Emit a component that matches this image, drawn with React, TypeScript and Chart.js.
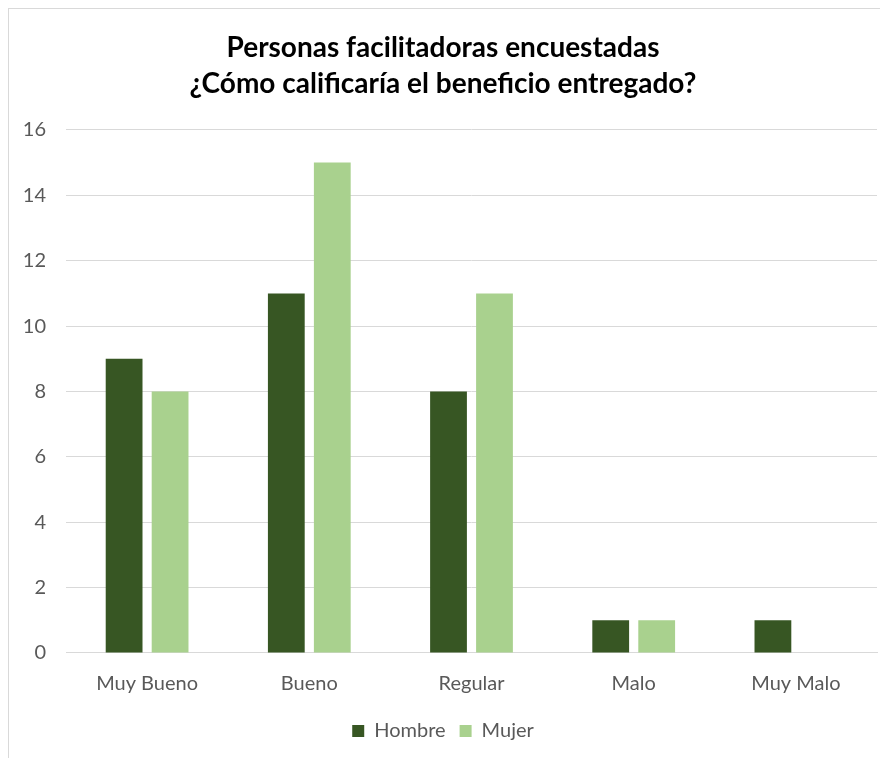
import React, { useEffect, useRef } from "react";
import { Chart, registerables } from "chart.js";

Chart.register(...registerables);

const categories = ["Muy Bueno", "Bueno", "Regular", "Malo", "Muy Malo"];
const hombreValues = [9, 11, 8, 1, 1];
const mujerValues = [8, 15, 11, 1, 0];
const titleLines = ["Personas facilitadoras encuestadas", "¿Cómo calificaría el beneficio entregado?"];

const FONT = "Lato, 'Open Sans', sans-serif";

export default function App() {
  const ref = useRef<HTMLCanvasElement | null>(null);
  useEffect(() => {
    if (!ref.current) return;
    const chart = new Chart(ref.current, {
      type: "bar",
      data: {
        labels: categories,
        datasets: [
          { label: "Hombre", data: hombreValues, backgroundColor: "#375623", categoryPercentage: 0.567, barPercentage: 0.8 },
          { label: "Mujer", data: mujerValues, backgroundColor: "#A9D18E", categoryPercentage: 0.567, barPercentage: 0.8 },
        ],
      },
      options: {
        animation: false,
        responsive: false,
        maintainAspectRatio: false,
        layout: { padding: { left: 0, right: 11, top: 0, bottom: 7 } },
        plugins: {
          title: {
            display: true,
            text: titleLines,
            color: "#000000",
            font: { family: FONT, size: 28, weight: "bold", lineHeight: 1.32 },
            padding: { top: 20, bottom: 27 },
          },
          legend: {
            position: "bottom",
            labels: {
              boxWidth: 12,
              boxHeight: 12,
              color: "#595959",
              font: { family: FONT, size: 20 },
              padding: 14,
            },
          },
          tooltip: { enabled: false },
        },
        scales: {
          x: {
            grid: { display: false, drawTicks: false },
            border: { display: true, color: "#d9d9d9" },
            ticks: { color: "#595959", font: { family: FONT, size: 20 }, padding: 19 },
            afterFit: (s: any) => { s.height = 54; },
          },
          y: {
            min: 0,
            max: 16,
            ticks: { stepSize: 2, color: "#595959", font: { family: FONT, size: 20 }, padding: 20 },
            grid: { color: "#d9d9d9", drawTicks: false },
            border: { display: false },
            afterFit: (s: any) => { s.width = 57; },
          },
        },
      },
    });
    return () => chart.destroy();
  }, []);
  return (
    <div style={{ width: 880, height: 750, borderTop: "1px solid #d9d9d9", borderLeft: "1px solid #d9d9d9", background: "#fff", overflow: "hidden" }}>
      <canvas ref={ref} width={879} height={749} style={{ display: "block" }} />
    </div>
  );
}
